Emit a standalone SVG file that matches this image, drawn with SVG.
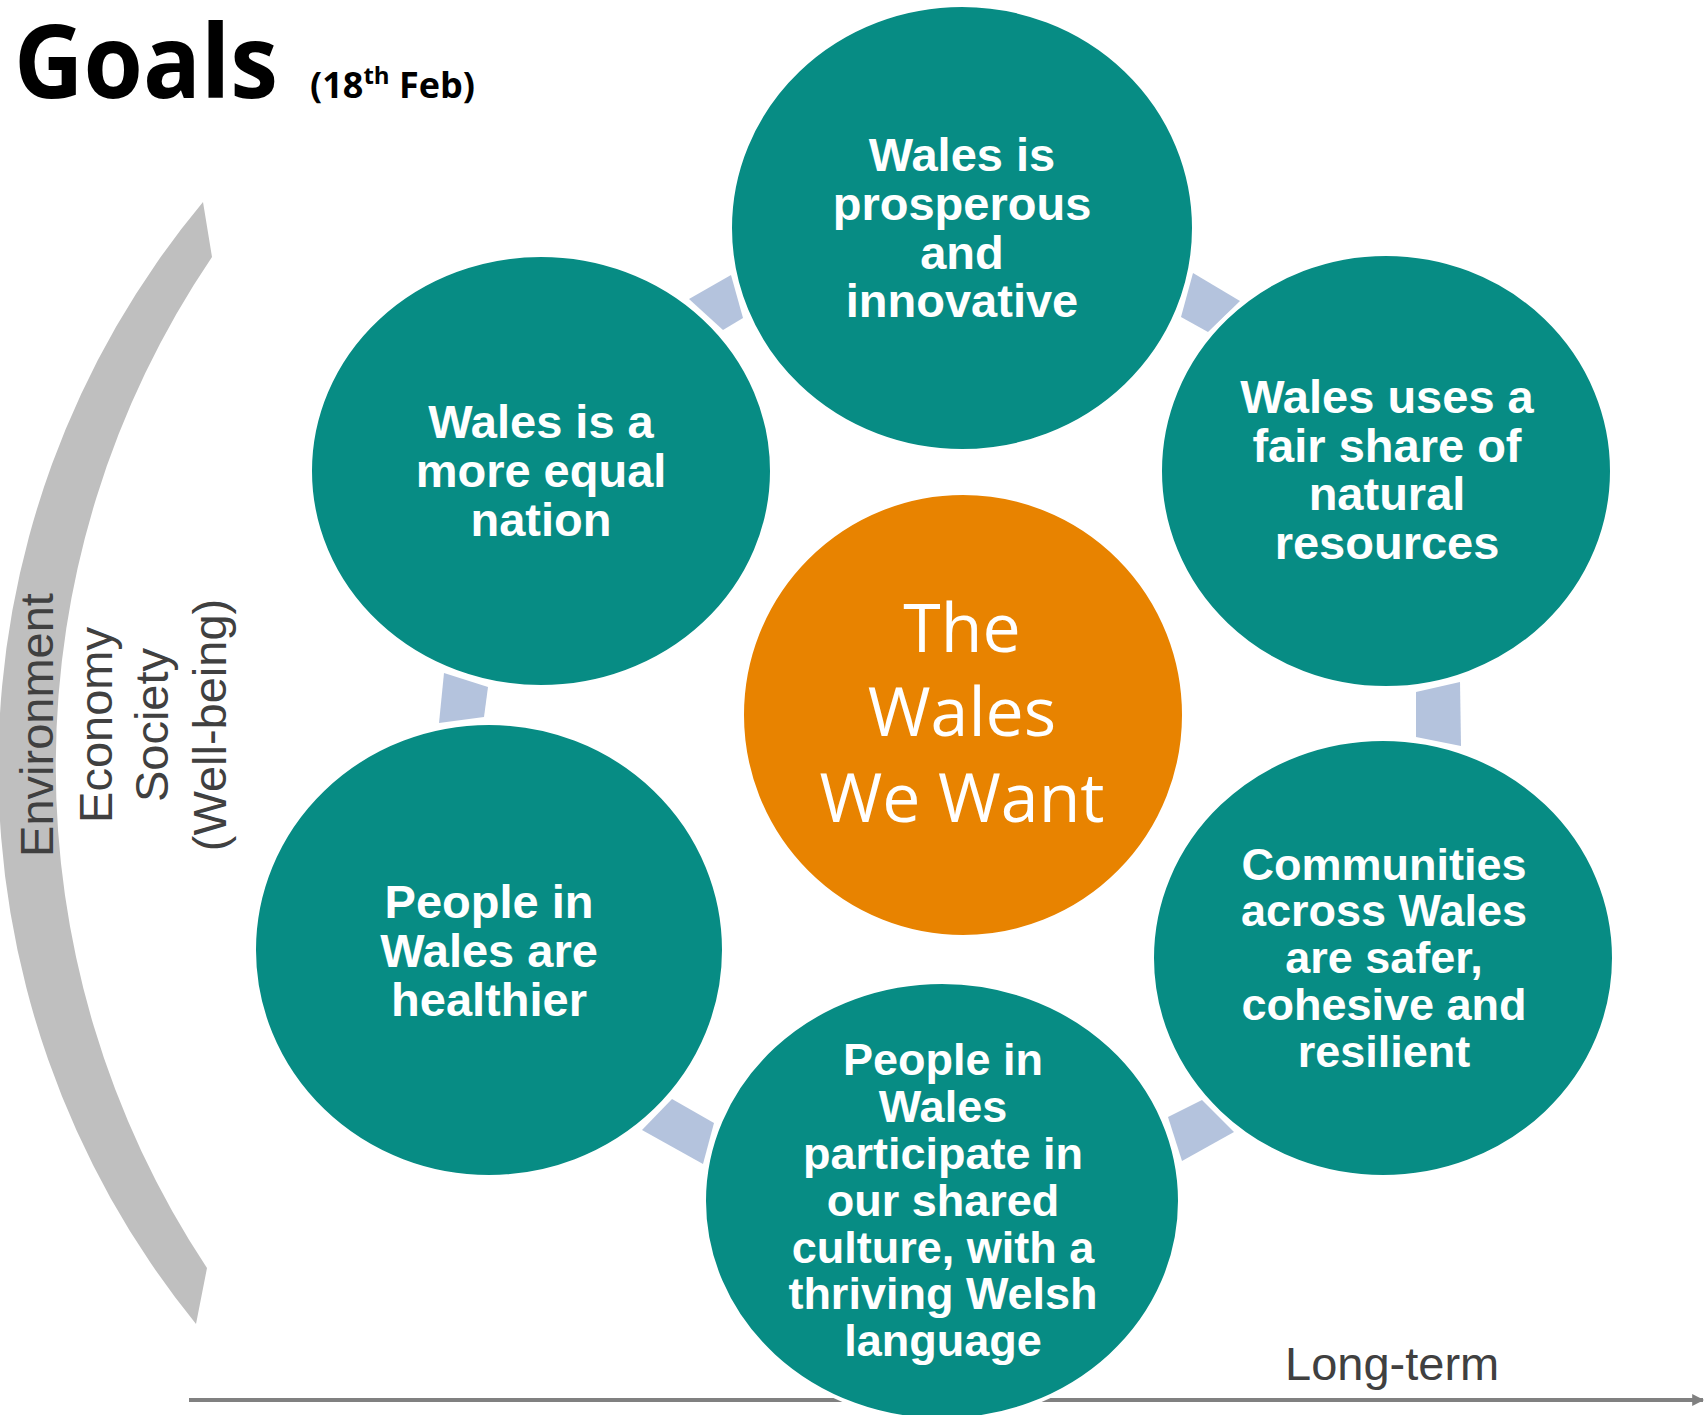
<svg xmlns="http://www.w3.org/2000/svg" width="1706" height="1415" viewBox="0 0 1706 1415">
<style>
.goal{fill:#078C84;stroke:#FFFFFF;stroke-width:4}
.hub{fill:#E88300;stroke:#FFFFFF;stroke-width:4}
.gt{font-family:"Liberation Sans",Arial,sans-serif;font-weight:bold;fill:#FFFFFF;text-anchor:middle}
.side{font-family:"Liberation Sans",Arial,sans-serif;font-size:47px;fill:#404040;text-anchor:middle}
.conn{fill:#B4C3DD}
</style>
<defs>
<marker id="ah" viewBox="0 0 10 10" refX="9" refY="5" markerWidth="3" markerHeight="3" orient="auto" markerUnits="strokeWidth">
<path d="M0,0 L10,5 L0,10 Z" fill="#808080"/>
</marker>
</defs>
<rect width="1706" height="1415" fill="#FFFFFF"/>
<g id="title">
<text x="14" y="98" font-family="'Open Sans',sans-serif" font-weight="bold" font-size="102" fill="#000000" textLength="264" lengthAdjust="spacingAndGlyphs">Goals</text>
<text x="310" y="98" font-family="'Open Sans',sans-serif" font-weight="bold" font-size="36" fill="#000000">(18<tspan font-size="24" dy="-14">th</tspan><tspan dy="14"> Feb)</tspan></text>
</g>
<g id="dimensions">
<path d="M203,202 A883,883 0 0 0 196,1324 L207,1268 A908,908 0 0 1 212,257 Z" fill="#BFBFBF"/>
<text class="side" transform="translate(53,725) rotate(-90)">Environment</text>
<text class="side" transform="translate(112,725) rotate(-90)">Economy</text>
<text class="side" transform="translate(168,725) rotate(-90)">Society</text>
<text class="side" transform="translate(226,725) rotate(-90)">(Well-being)</text>
</g>
<g id="timeline">
<line x1="189" y1="1400" x2="1703" y2="1400" stroke="#808080" stroke-width="4" marker-end="url(#ah)"/>
<text x="1285" y="1380" font-family="'Liberation Sans',Arial,sans-serif" font-size="47" fill="#404040">Long-term</text>
</g>
<g id="connectors">
<polygon class="conn" points="689,299 731,275 743,318 723,330"/>
<polygon class="conn" points="1193,273 1240,301 1208,332 1181,317"/>
<polygon class="conn" points="1416,692 1460,682 1461,746 1416,737"/>
<polygon class="conn" points="444,673 488,687 484,717 439,723"/>
<polygon class="conn" points="642,1130 672,1099 714,1123 703,1164"/>
<polygon class="conn" points="1168,1117 1202,1100 1234,1132 1182,1161"/>
</g>
<g id="node-hub">
<ellipse class="hub" cx="963" cy="715" rx="221" ry="222"/>
<text font-family="'Open Sans',sans-serif" font-size="68" fill="#FFFFFF" text-anchor="middle"><tspan x="962" y="652">The</tspan><tspan x="962" y="736">Wales</tspan><tspan x="962" y="822">We Want</tspan></text>
</g>
<g id="node-prosperous">
<ellipse class="goal" cx="962" cy="228" rx="232" ry="223"/>
<text class="gt" font-size="47"><tspan x="962" y="171">Wales is</tspan><tspan x="962" y="220">prosperous</tspan><tspan x="962" y="269">and</tspan><tspan x="962" y="317">innovative</tspan></text>
</g>
<g id="node-equal">
<ellipse class="goal" cx="541" cy="471" rx="231" ry="216"/>
<text class="gt" font-size="47"><tspan x="541" y="438">Wales is a</tspan><tspan x="541" y="487">more equal</tspan><tspan x="541" y="536">nation</tspan></text>
</g>
<g id="node-resources">
<ellipse class="goal" cx="1386" cy="471" rx="226" ry="217"/>
<text class="gt" font-size="47"><tspan x="1387" y="413">Wales uses a</tspan><tspan x="1387" y="462">fair share of</tspan><tspan x="1387" y="510">natural</tspan><tspan x="1387" y="559">resources</tspan></text>
</g>
<g id="node-healthier">
<ellipse class="goal" cx="489" cy="950" rx="235" ry="227"/>
<text class="gt" font-size="47"><tspan x="489" y="918">People in</tspan><tspan x="489" y="967">Wales are</tspan><tspan x="489" y="1016">healthier</tspan></text>
</g>
<g id="node-communities">
<ellipse class="goal" cx="1383" cy="958" rx="231" ry="219"/>
<text class="gt" font-size="45"><tspan x="1384" y="880">Communities</tspan><tspan x="1384" y="926">across Wales</tspan><tspan x="1384" y="973">are safer,</tspan><tspan x="1384" y="1020">cohesive and</tspan><tspan x="1384" y="1067">resilient</tspan></text>
</g>
<g id="node-culture">
<ellipse class="goal" cx="942" cy="1201" rx="238" ry="219"/>
<text class="gt" font-size="45"><tspan x="943" y="1075">People in</tspan><tspan x="943" y="1122">Wales</tspan><tspan x="943" y="1169">participate in</tspan><tspan x="943" y="1216">our shared</tspan><tspan x="943" y="1263">culture, with a</tspan><tspan x="943" y="1309">thriving Welsh</tspan><tspan x="943" y="1356">language</tspan></text>
</g>
</svg>
